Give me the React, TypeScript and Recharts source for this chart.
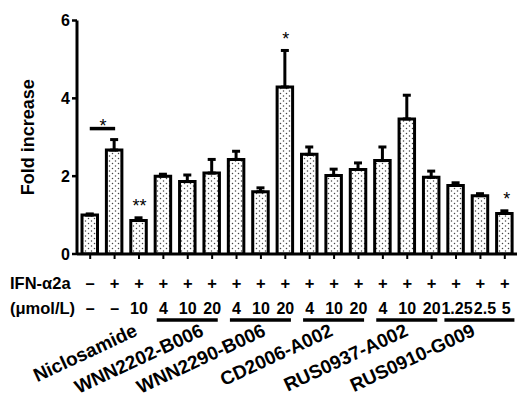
import React from 'react';
import { BarChart, Bar, XAxis, YAxis, ErrorBar, LabelList } from 'recharts';

// values
const ifnRow = ['–', '+', '+', '+', '+', '+', '+', '+', '+', '+', '+', '+', '+', '+', '+', '+', '+', '+'];
const doseRow = ['–', '–', '10', '4', '10', '20', '4', '10', '20', '4', '10', '20', '4', '10', '20', '1.25', '2.5', '5'];
const foldMeans = [1.0, 2.67, 0.86, 2.0, 1.86, 2.08, 2.43, 1.6, 4.29, 2.56, 2.02, 2.17, 2.4, 3.47, 1.97, 1.76, 1.5, 1.04];
const foldErrors = [0.03, 0.27, 0.07, 0.05, 0.17, 0.35, 0.21, 0.1, 0.94, 0.19, 0.16, 0.17, 0.35, 0.61, 0.16, 0.07, 0.05, 0.07];
const sigMarks = ['', '*', '**', '', '', '', '', '', '*', '', '', '', '', '', '', '', '', '*'];
const compounds = ['Niclosamide', 'WNN2202-B006', 'WNN2290-B006', 'CD2006-A002', 'RUS0937-A002', 'RUS0910-G009'];
const yTicks = [0, 2, 4, 6];

const data = foldMeans.map((v, i) => ({ key: `c${i}`, value: v, err: [0, foldErrors[i]] }));

const W = 517;
const H = 409;
const LEFT = 77;
const FONT = '"Liberation Sans", Arial, Helvetica, sans-serif';
const BAND = (W - LEFT - 1) / foldMeans.length;
// where each rotated compound name ends, relative to its group's middle bar
const labelShift = [24, 17, 6, 0, 2, -4];

// the last doses are wider than a band; nudge them apart so they do not overlap
function doseNudge(i: number) {
  if (i === 15) return 1;
  if (i === 16) return 4.5;
  if (i === 17) return 1.5;
  return 0;
}

function CondTick(props: any) {
  const { x, y, index } = props;
  const g = Math.floor(index / 3);
  const isMid = index % 3 === 1;
  const txt = { fontFamily: FONT, fontWeight: 700, fill: '#000' } as const;
  return (
    <g>
      {index === 0 && (
        <>
          <text x={10} y={y + 30} fontSize={16.5} {...txt}>IFN-α2a</text>
          <text x={10} y={y + 55} fontSize={16.5} {...txt}>(μmol/L)</text>
        </>
      )}
      <text x={x} y={y + 30} textAnchor="middle" fontSize={16.5} {...txt}>{ifnRow[index]}</text>
      <text x={x + doseNudge(index)} y={y + 55} textAnchor="middle" fontSize={16} {...txt}>
        {doseRow[index]}
      </text>
      {isMid && g > 0 && (
        <line
          x1={x - (g === 5 ? 36 : 31)}
          x2={x + (g === 5 ? 34 : 30)}
          y1={y + 61}
          y2={y + 61}
          stroke="#000"
          strokeWidth={3.5}
        />
      )}
      {isMid && (
        <text
          transform={`translate(${x + labelShift[g]},${y + 76}) rotate(-25)`}
          textAnchor="end"
          fontSize={19}
          {...txt}
        >
          {compounds[g]}
        </text>
      )}
    </g>
  );
}

function SigLabel(props: any) {
  const { x, y, width, height, index, value } = props;
  const mark = sigMarks[index];
  if (!mark || !value) return null;
  const perUnit = height / value;
  const capY = y - foldErrors[index] * perUnit;
  const cx = x + width / 2;
  const style = { fontFamily: FONT, fontSize: 18, fill: '#000' };
  if (index === 1) {
    const lineY = capY - 11;
    return (
      <g>
        <line x1={cx - BAND} x2={cx + 1} y1={lineY} y2={lineY} stroke="#000" strokeWidth={3.5} />
        <text x={cx - BAND / 2 + 1} y={lineY + 3} textAnchor="middle" style={style}>{mark}</text>
      </g>
    );
  }
  const dx = index === foldMeans.length - 1 ? 2.5 : 1;
  return (
    <text x={cx + dx} y={capY - 5.5} textAnchor="middle" style={style}>{mark}</text>
  );
}

function YLabel(props: any) {
  const vb = props.viewBox || { x: 0, y: 20, width: LEFT, height: 234 };
  const cx = 28;
  const cy = vb.y + vb.height / 2;
  return (
    <text
      x={cx}
      y={cy}
      transform={`rotate(-90,${cx},${cy})`}
      textAnchor="middle"
      dominantBaseline="central"
      style={{ fontFamily: FONT, fontSize: 18, fontWeight: 700, fill: '#000' }}
    >
      Fold increase
    </text>
  );
}

export default function App() {
  return (
    <div style={{ position: 'absolute', left: 0, top: 0, width: W, height: H, background: '#fff' }}>
      <BarChart
        width={W}
        height={H}
        data={data}
        margin={{ top: 20.5, right: 0, bottom: 0, left: 0 }}
        barCategoryGap={0}
      >
        <defs>
          <pattern id="dots" width="6" height="5" patternUnits="userSpaceOnUse">
            <rect width="6" height="5" fill="#fff" />
            <circle cx="1.5" cy="1" r="0.75" fill="#444" />
            <circle cx="4.5" cy="3.5" r="0.75" fill="#444" />
          </pattern>
        </defs>
        <XAxis
          dataKey="key"
          interval={0}
          height={155}
          padding={{ left: 1, right: 0 }}
          tick={<CondTick />}
          tickSize={5}
          tickMargin={0}
          tickLine={{ stroke: '#000', strokeWidth: 2 }}
          axisLine={{ stroke: '#000', strokeWidth: 3 }}
        />
        <YAxis
          width={LEFT}
          domain={[0, 6]}
          ticks={yTicks}
          allowDataOverflow
          tickSize={5}
          tickMargin={2}
          tickLine={{ stroke: '#000', strokeWidth: 2.5 }}
          axisLine={{ stroke: '#000', strokeWidth: 3 }}
          tick={{ fill: '#000', fontSize: 16, fontWeight: 700, fontFamily: FONT }}
          label={<YLabel />}
        />
        <Bar
          dataKey="value"
          barSize={15.5}
          fill="url(#dots)"
          stroke="#000"
          strokeWidth={3}
          isAnimationActive={false}
        >
          <ErrorBar dataKey="err" width={4} stroke="#000" strokeWidth={3} direction="y" />
          <LabelList dataKey="value" content={<SigLabel />} />
        </Bar>
      </BarChart>
    </div>
  );
}
